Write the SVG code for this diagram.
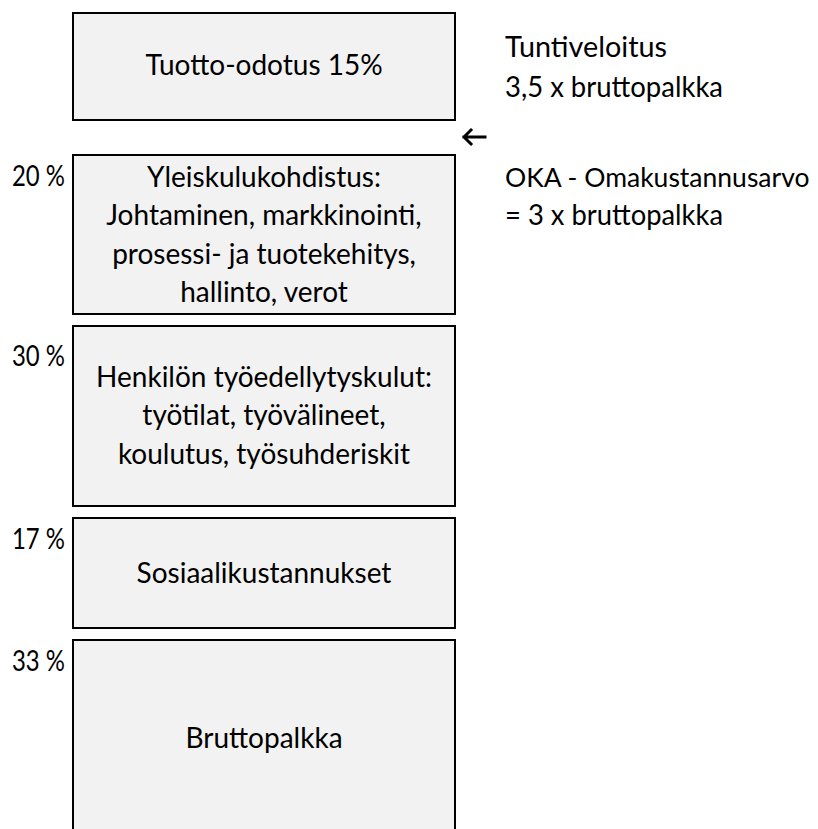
<svg xmlns="http://www.w3.org/2000/svg" width="818" height="829" viewBox="0 0 818 829">
<style>
.box{fill:#f2f2f2;stroke:#000;stroke-width:2}
text{font-family:Lato,"Open Sans","Liberation Sans",sans-serif;font-size:28px;fill:#000}
.c{text-anchor:middle}
.arr{fill:none;stroke:#000;stroke-width:3;stroke-linecap:square}
</style>
<rect width="818" height="829" fill="#fff"/>
<g id="tuotto">
<rect class="box" x="73" y="13" width="382" height="107"/>
<text class="c" x="264" y="75">Tuotto-odotus 15%</text>
</g>
<g id="yleiskulu">
<rect class="box" x="73" y="155" width="382" height="159"/>
<text x="12" y="186" textLength="53" lengthAdjust="spacingAndGlyphs">20 %</text>
<text class="c" x="264" y="186.5">Yleiskulukohdistus:</text>
<text class="c" x="264" y="225">Johtaminen, markkinointi,</text>
<text class="c" x="264" y="263.5">prosessi- ja tuotekehitys,</text>
<text class="c" x="264" y="302">hallinto, verot</text>
</g>
<g id="henkilo">
<rect class="box" x="73" y="326" width="382" height="180"/>
<text x="12" y="366" textLength="53" lengthAdjust="spacingAndGlyphs">30 %</text>
<text class="c" x="264" y="386.5">Henkilön työedellytyskulut:</text>
<text class="c" x="264" y="425">työtilat, työvälineet,</text>
<text class="c" x="264" y="463.5">koulutus, työsuhderiskit</text>
</g>
<g id="sosiaali">
<rect class="box" x="73" y="518" width="382" height="110"/>
<text x="12" y="549" textLength="53" lengthAdjust="spacingAndGlyphs">17 %</text>
<text class="c" x="264" y="583">Sosiaalikustannukset</text>
</g>
<g id="brutto">
<rect class="box" x="73" y="640" width="382" height="200"/>
<text x="12" y="671" textLength="53" lengthAdjust="spacingAndGlyphs">33 %</text>
<text class="c" x="264" y="748">Bruttopalkka</text>
</g>
<g id="tuntiveloitus">
<text x="505" y="57" textLength="162" lengthAdjust="spacingAndGlyphs">Tuntiveloitus</text>
<text x="505" y="97" textLength="218" lengthAdjust="spacingAndGlyphs">3,5 x bruttopalkka</text>
</g>
<g id="oka">
<text x="505" y="186.5" style="font-size:26.5px">OKA - Omakustannusarvo</text>
<text x="505" y="225" textLength="218" lengthAdjust="spacingAndGlyphs">= 3 x bruttopalkka</text>
</g>
<g id="connectors">
<path class="arr" d="M464 137 H485 M471 130 L464 137 L471 144"/>
</g>
</svg>
